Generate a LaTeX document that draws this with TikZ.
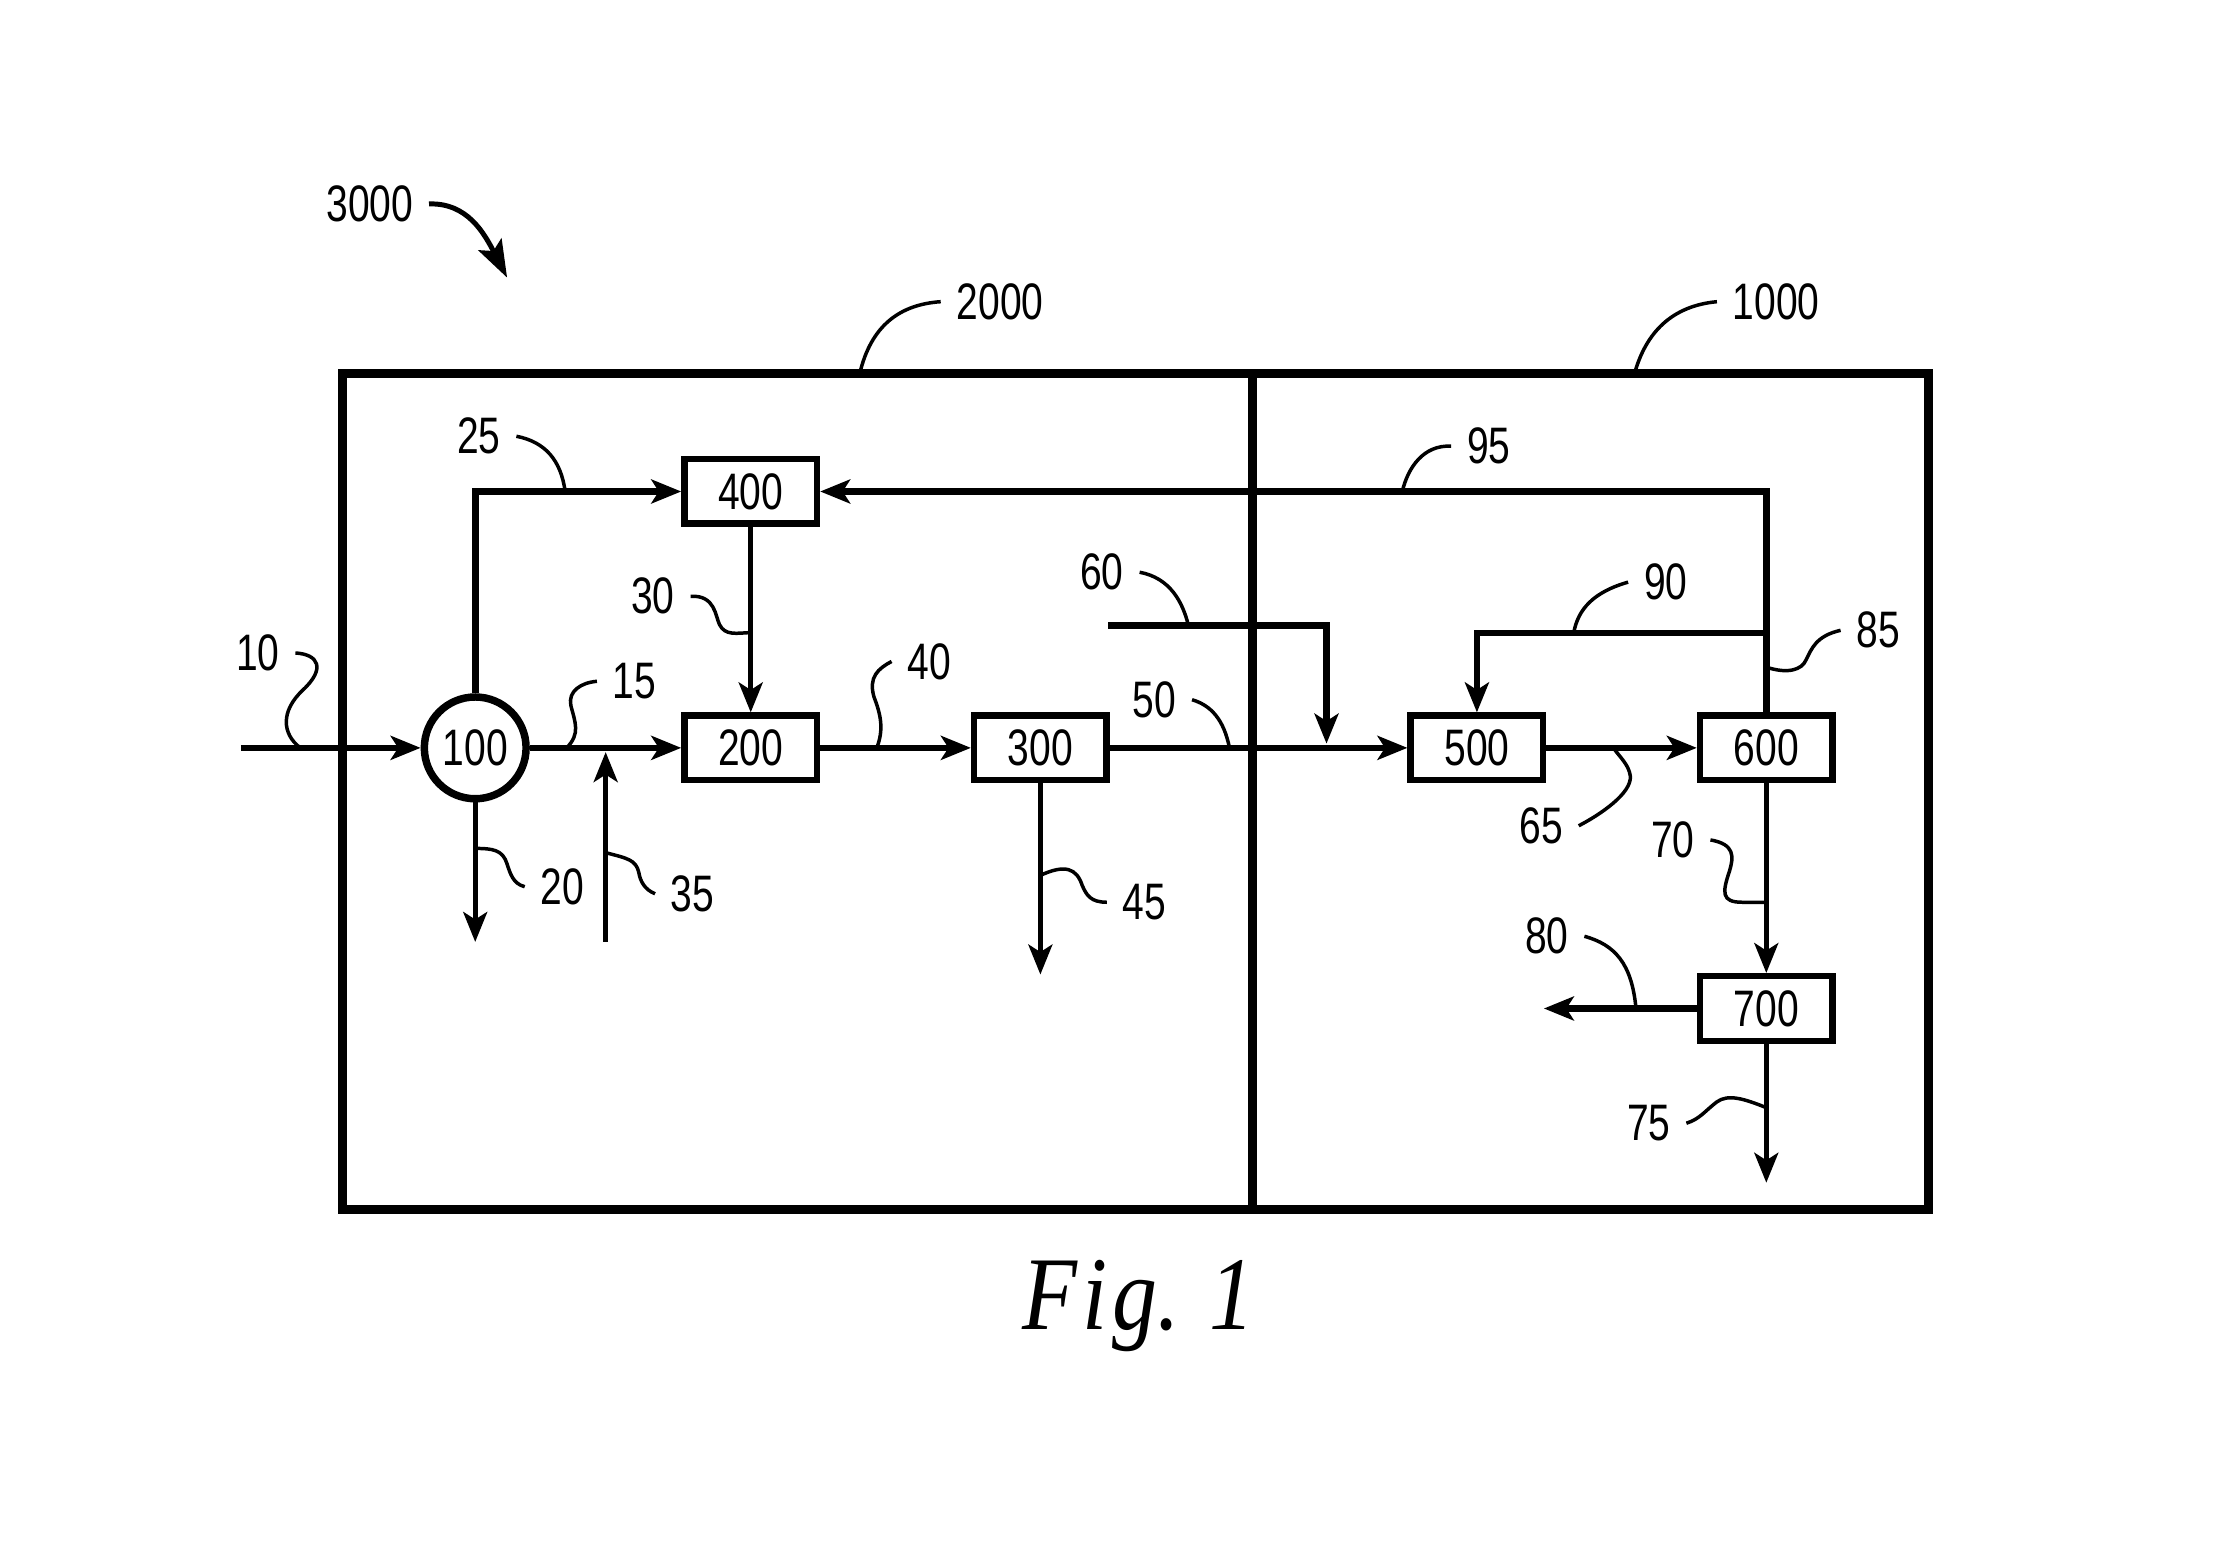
\documentclass[tikz,border=0pt]{standalone}
\usepackage{fontspec}
\usepackage{tikz}
\usetikzlibrary{arrows.meta}
\newfontfamily\reffont[FakeStretch=0.76]{Liberation Sans}
\newfontfamily\figfont[FakeStretch=0.86]{Liberation Serif}
\def\tagsize{\reffont\fontsize{10.3}{12}\selectfont}
\tikzset{
	unit/.style={draw, line width=1.3pt, minimum width=0.935cm, minimum height=0.455cm, inner sep=0pt, font=\tagsize},
	mixer/.style={draw, circle, line width=1.5pt, minimum size=0.718cm, inner sep=0pt, font=\tagsize},
	tag/.style={inner sep=3pt, font=\tagsize},
	stream/.style={line width=1.35pt, -{Stealth[length=6pt,width=4.8pt,inset=1.5pt]}},
	thinstream/.style={stream, line width=1pt},
	leader/.style={line width=0.7pt},
	frame/.style={line width=1.8pt}
}

\begin{document}
\begin{tikzpicture}[x=0.01cm, y=-0.01cm]
		%%%%% START %%%%%
		\useasboundingbox (0, 0) rectangle (1568, 1089);
		
		% plant boundaries
		\draw[frame] (241.7, 263.6) rectangle (1361.5, 853.9);
		\draw[frame] (884, 263.6) -- (884, 853.9);
		
		% units
		\node[mixer] (n100) at (335.5, 528) {100};
		\node[unit] (n400) at (530, 347) {400};
		\node[unit] (n200) at (530, 528) {200};
		\node[unit] (n300) at (734.5, 528) {300};
		\node[unit] (n500) at (1042.7, 528) {500};
		\node[unit] (n600) at (1247, 528) {600};
		\node[unit] (n700) at (1247, 712) {700};
		
		% free ends of the streams
		\coordinate (in10) at (170, 528);
		\coordinate (out20) at (335.5, 665);
		\coordinate (in35) at (427.6, 665);
		\coordinate (j35) at (427.6, 531);
		\coordinate (out45) at (734.5, 688);
		\coordinate (in60) at (782.5, 441.6);
		\coordinate (j60) at (936.5, 525);
		\coordinate (c90) at (1247, 447);
		\coordinate (out80) at (1090, 712);
		\coordinate (out75) at (1247, 835);
		
		% streams
		\draw[stream] (in10) -- (n100);
		\draw[stream] (n100) -- (n200);
		\draw[thinstream] (n100) -- (out20);
		\draw[stream] (n100) |- (n400);
		\draw[thinstream] (n400) -- (n200);
		\draw[thinstream] (in35) -- (j35);
		\draw[stream] (n200) -- (n300);
		\draw[thinstream] (n300) -- (out45);
		\draw[stream] (n300) -- (n500);
		\draw[stream] (in60) -| (j60);
		\draw[stream] (n500) -- (n600);
		\draw[stream] (n600) |- (n400);
		\draw[stream] (c90) -| (n500);
		\draw[thinstream] (n600) -- (n700);
		\draw[stream] (n700) -- (out80);
		\draw[thinstream] (n700) -- (out75);
		
		% reference numerals
		\node[tag] (l3000) at (261, 144) {3000};
		\node[tag] (l2000) at (706, 213) {2000};
		\node[tag] (l1000) at (1254, 213) {1000};
		\node[tag] (l25) at (338, 308) {25};
		\node[tag] (l95) at (1051, 315) {95};
		\node[tag] (l60) at (778, 404) {60};
		\node[tag] (l90) at (1176, 411) {90};
		\node[tag] (l85) at (1326, 445) {85};
		\node[tag] (l30) at (461, 421) {30};
		\node[tag] (l10) at (182, 461) {10};
		\node[tag] (l15) at (448, 481) {15};
		\node[tag] (l40) at (656, 467) {40};
		\node[tag] (l50) at (815, 494) {50};
		\node[tag] (l65) at (1088, 583) {65};
		\node[tag] (l70) at (1181, 593) {70};
		\node[tag] (l20) at (397, 626) {20};
		\node[tag] (l35) at (489, 631) {35};
		\node[tag] (l45) at (808, 637) {45};
		\node[tag] (l80) at (1092, 661) {80};
		\node[tag] (l75) at (1164, 793) {75};
		
		% leader ends
		\coordinate (t2000) at (607, 263.6);
		\coordinate (t1000) at (1154, 263.6);
		\coordinate (t25) at (399, 347);
		\coordinate (t95) at (990, 347);
		\coordinate (t60) at (839, 441.6);
		\coordinate (t90) at (1111, 447);
		\coordinate (t85) at (1247, 471);
		\coordinate (t30) at (530, 446.6);
		\coordinate (t10) at (212, 528);
		\coordinate (t15) at (400, 528);
		\coordinate (t40) at (619, 528);
		\coordinate (t50) at (868, 528);
		\coordinate (t65) at (1139, 528);
		\coordinate (t70) at (1247, 637);
		\coordinate (t20) at (335.5, 599);
		\coordinate (t35) at (427.6, 602);
		\coordinate (t45) at (734.5, 618);
		\coordinate (t80) at (1155, 712);
		\coordinate (t75) at (1247, 782);
		
		% leaders
		\draw[leader, line width=1pt, -{Stealth[length=7.5pt,width=5.2pt,inset=1.5pt]}] (l3000.east) .. controls (330, 143) and (342, 165) .. (358, 196);
		\draw[leader] (l2000.west) .. controls (635, 215) and (615, 230) .. (t2000);
		\draw[leader] (l1000.west) .. controls (1180, 216) and (1162, 235) .. (t1000);
		\draw[leader] (l25.east) .. controls (385, 312) and (396, 325) .. (t25);
		\draw[leader] (l95.west) .. controls (1005, 314) and (994, 330) .. (t95);
		\draw[leader] (l60.east) .. controls (826, 408) and (835, 425) .. (t60);
		\draw[leader] (l90.west) .. controls (1125, 418) and (1114, 430) .. (t90);
		\draw[leader] (l85.west) .. controls (1282, 449) and (1279, 458) .. (1275, 466) .. controls (1272, 473) and (1262, 476) .. (t85);
		\draw[leader] (l30.east) .. controls (505, 420) and (505, 435) .. (508, 441) .. controls (512, 449) and (520, 447) .. (t30);
		\draw[leader] (l10.east) .. controls (225, 462) and (230, 472) .. (214, 487) .. controls (198, 502) and (199, 518) .. (t10);
		\draw[leader] (l15.west) .. controls (410, 482) and (401, 488) .. (403, 498) .. controls (406, 510) and (410, 518) .. (t15);
		\draw[leader] (l40.west) .. controls (620, 472) and (613, 478) .. (617, 492) .. controls (622, 505) and (624, 515) .. (t40);
		\draw[leader] (l50.east) .. controls (855, 498) and (864, 508) .. (t50);
		\draw[leader] (l65.east) .. controls (1130, 575) and (1152, 560) .. (1151, 548) .. controls (1150, 540) and (1144, 535) .. (t65);
		\draw[leader] (l70.east) .. controls (1225, 596) and (1224, 605) .. (1221, 615) .. controls (1216, 630) and (1215, 637) .. (1230, 637) -- (t70);
		\draw[leader] (l20.west) .. controls (362, 624) and (360, 616) .. (358, 610) .. controls (355, 600) and (348, 599) .. (t20);
		\draw[leader] (l35.west) .. controls (455, 628) and (452, 622) .. (451, 616) .. controls (449, 607) and (443, 606) .. (t35);
		\draw[leader] (l45.west) .. controls (770, 637) and (767, 632) .. (764, 625) .. controls (760, 613) and (752, 610) .. (t45);
		\draw[leader] (l80.east) .. controls (1140, 667) and (1152, 680) .. (t80);
		\draw[leader] (l75.east) .. controls (1200, 790) and (1203, 785) .. (1212, 778) .. controls (1220, 772) and (1232, 776) .. (t75);
		
		\node[anchor=base, inner sep=0pt, font=\figfont\itshape\fontsize{21}{24}\selectfont] (fig) at (803.7, 938.5) {F\kern1pt i\kern1pt g.\hspace{6pt}1};
		%%%%% END %%%%%
\end{tikzpicture}
\end{document}
